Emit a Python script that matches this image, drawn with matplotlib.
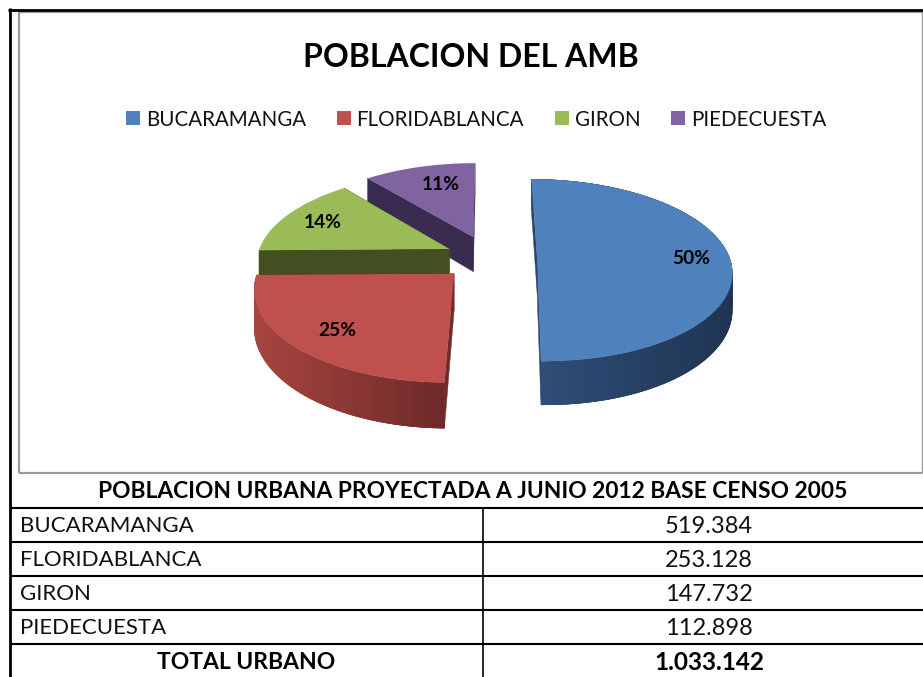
import numpy as np
import matplotlib
matplotlib.use("Agg")
import matplotlib.pyplot as plt
from matplotlib.transforms import Transform
from matplotlib.collections import PolyCollection
from matplotlib.patches import Polygon
from matplotlib.colors import to_rgb

plt.rcParams['font.family'] = ['Lato', 'DejaVu Sans']

# ---- data ----
categories = ["BUCARAMANGA", "FLORIDABLANCA", "GIRON", "PIEDECUESTA"]
population = [519384, 253128, 147732, 112898]
total_label = "TOTAL URBANO"
chart_title = "POBLACION DEL AMB"
table_title = "POBLACION URBANA PROYECTADA A JUNIO 2012 BASE CENSO 2005"

# ---- style ----
colors = ["#4F81BD", "#C0504D", "#9BBB59", "#8064A2"]
explode = [0.25, 0.25, 0.23, 0.25]
side_solid = ["#2A4568", "#702B2A", "#414F21", "#3A2B50"]
side_grad = [("#2F4F79", "#1F3452"), ("#A8453F", "#6E2A29"), None, None]
label_px = [(691, 259), (337, 331), (323, 223), (441, 185)]

CX, CY, A, B, K, D, KD = 489.0, 257.5, 192.5, 89.3, 0.137, 36.0, 0.18


class Persp(Transform):
    input_dims = output_dims = 2
    is_separable = False
    has_inverse = False

    def transform_non_affine(self, values):
        v = np.asarray(values, dtype=float)
        w = 1 + K * v[:, 1]
        return np.column_stack([CX + A * v[:, 0] / w, CY - B * v[:, 1] / w])


persp = Persp()
W, H = 923, 677
fig = plt.figure(figsize=(W / 100, H / 100), dpi=100, facecolor="white")
ax = fig.add_axes([0, 0, 1, 1])

wedges, _, pct = ax.pie(population, explode=explode, colors=colors, startangle=90,
                        counterclock=False, autopct="%1.0f%%", labels=None)
ax.set_aspect("auto")
ax.set_xlim(0, W)
ax.set_ylim(H, 0)
ax.axis("off")


def project(x, y):
    return persp.transform_non_affine(np.column_stack([x, y]))


def drop(y):
    return D / (1 + KD * y)


order = [3, 2, 1, 0]
for level, i in enumerate(order):
    wg = wedges[i]
    cx, cy = wg.center
    t = np.radians(np.linspace(wg.theta1, wg.theta2, 90))
    X = cx + wg.r * np.cos(t)
    Y = cy + wg.r * np.sin(t)
    top = project(X, Y)
    low = top + np.column_stack([np.zeros_like(Y), drop(Y)])
    z = 2 + 2 * level
    # radial side faces
    tip = project(np.array([cx]), np.array([cy]))[0]
    tip_low = tip + [0, drop(cy)]
    for k in (0, -1):
        ax.add_patch(Polygon([tip, top[k], low[k], tip_low], closed=True,
                             facecolor=side_solid[i], edgecolor=side_solid[i],
                             linewidth=0.3, zorder=z))
    # outer curved face: overlapping slices so no seams show
    if side_grad[i] is not None:
        n = len(t)
        quads = [[top[j], top[min(j + 3, n - 1)], low[min(j + 3, n - 1)], low[j]] for j in range(n - 1)]
        xm = (top[:-1, 0] + top[1:, 0]) / 2
        f = (xm - xm.min()) / (xm.max() - xm.min())
        c0, c1 = map(np.array, map(to_rgb, side_grad[i]))
        cols = [tuple(c0 + (c1 - c0) * q) for q in f]
        ax.add_collection(PolyCollection(quads, facecolors=cols, edgecolors="none",
                                         linewidths=0, zorder=z + 0.5))
    # top face comes from the pie wedge itself
    wg.set_transform(persp + ax.transData)
    wg.set_zorder(z + 1)
    wg.set_edgecolor("none")

for p, (lx, ly) in zip(pct, label_px):
    p.set_position((lx, ly))
    p.set(fontsize=13.8, fontweight="bold", color="black", ha="center", va="center", zorder=20)

ax.text(471, 57.5, chart_title, fontsize=23, fontweight="bold", ha="center", va="center", color="black")

leg = ax.legend(wedges, categories, loc="center", bbox_to_anchor=(476, 119.5), bbox_transform=ax.transData,
                ncols=4, frameon=False, fontsize=14.8, handlelength=0.68, handleheight=0.68,
                handletextpad=0.28, columnspacing=1.5, borderpad=0, labelcolor="#111111")

# ---- frames ----
ax.plot([19, 19], [12, 473], color="#9A9A9A", lw=1.6, zorder=1, solid_capstyle="butt")
ax.plot([19, 922], [473, 473], color="#9A9A9A", lw=1.6, zorder=1, solid_capstyle="butt")
ax.plot([19, 923], [12, 12], color="#9A9A9A", lw=1.6, zorder=1, solid_capstyle="butt")
ax.plot([922, 922], [12, 473], color="#9A9A9A", lw=1.0, zorder=1, solid_capstyle="butt")
ax.plot([9.7, 9.7], [8.3, H], color="black", lw=2.0, zorder=25, solid_capstyle="butt")
ax.plot([8.3, W], [9.7, 9.7], color="black", lw=2.0, zorder=25, solid_capstyle="butt")

# ---- table ----
row_lines = [508, 542, 576, 610, 644]
for y in row_lines:
    ax.plot([10, W], [y, y], color="black", lw=1.5, zorder=25, solid_capstyle="butt")
ax.plot([483, 483], [508, H], color="black", lw=1.2, zorder=25, solid_capstyle="butt")

fmt = lambda v: f"{v:,}".replace(",", ".")
ax.text(473, 492, table_title, fontsize=16.4, fontweight="bold", ha="center", va="center", color="black")
for yc, name, val in zip([526.5, 560.5, 594.5, 628.5], categories, population):
    ax.text(20, yc, name, fontsize=16, ha="left", va="center", color="#111111")
    ax.text(709, yc, fmt(val), fontsize=17, ha="center", va="center", color="#111111")
ax.text(246, 662.5, total_label, fontsize=16.5, fontweight="bold", ha="center", va="center", color="black")
ax.text(709, 662.5, fmt(sum(population)), fontsize=17.6, fontweight="bold", ha="center", va="center", color="black")

fig.savefig("out.png", dpi=100)
